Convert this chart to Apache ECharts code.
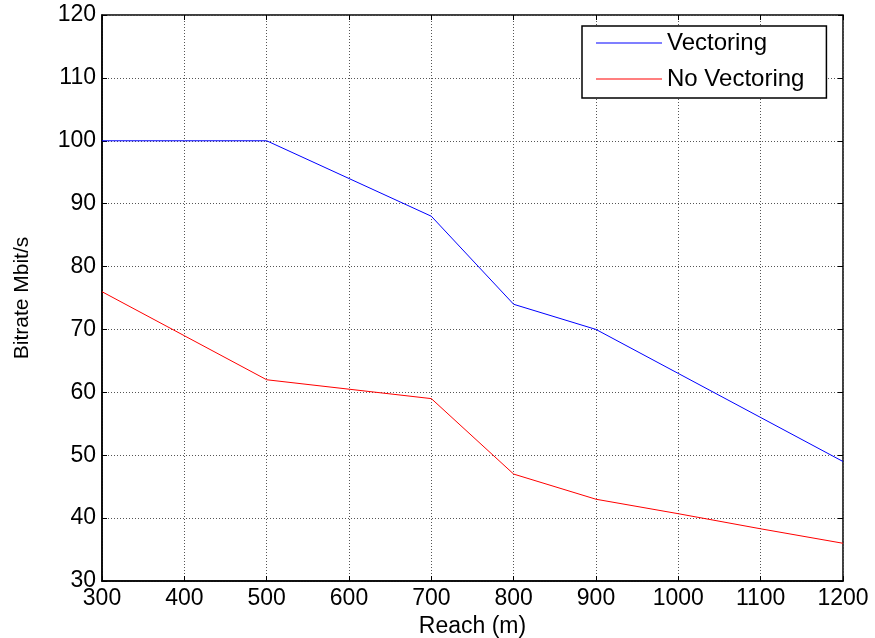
<!DOCTYPE html>
<html>
<head>
<meta charset="UTF-8">
<title>Bitrate vs Reach</title>
<script src="https://cdn.jsdelivr.net/npm/echarts@6/dist/echarts.min.js"></script>
<style>
  html, body { margin: 0; padding: 0; background: #fff; }
  #chart { width: 875px; height: 638px; }
</style>
</head>
<body>
<div id="chart"></div>
<script type="text/javascript">
// reach in metres
var reach = [300, 400, 500, 600, 700, 800, 900, 1000, 1100, 1200];
// bitrate values
var vectoring = [100, 100, 100, 94, 88, 74, 70, 63, 56, 49];
var noVectoring = [76, 69, 62, 60.5, 59, 47, 43, 40.7, 38.3, 36];

function pairs(xs, ys) {
    return xs.map(function (x, i) { return [x, ys[i]]; });
}

var chart = echarts.init(document.getElementById('chart'));

var font = 'Liberation Sans, Arial, sans-serif';
var gridLine = { show: true, lineStyle: { color: '#555', type: [1, 2], width: 1 } };
var tick = { show: true, inside: true, length: 5, lineStyle: { color: '#000' } };

var option = {
    animation: false,
    grid: {
        left: 102, right: 32, top: 15, bottom: 57,
        outerBoundsMode: 'none', containLabel: false,
        show: true, borderColor: '#000', borderWidth: 1.5, backgroundColor: '#fff'
    },
    legend: {
        left: 582, top: 26,
        orient: 'vertical',
        icon: 'rect',
        itemWidth: 66, itemHeight: 1.2, itemGap: 12,
        padding: [5, 22, 7, 14],
        borderColor: '#000', borderWidth: 1.5,
        backgroundColor: '#fff',
        textStyle: { fontFamily: font, fontSize: 24, color: '#000' },
        data: ['Vectoring', 'No Vectoring']
    },
    xAxis: [{
        type: 'value', min: 300, max: 1200, interval: 100,
        name: 'Reach (m)', nameLocation: 'middle', nameGap: 29,
        nameTextStyle: { fontFamily: font, fontSize: 23, color: '#000' },
        axisLine: { show: true, onZero: false, lineStyle: { color: '#000', width: 1.5 } },
        axisTick: tick,
        axisLabel: { fontFamily: font, fontSize: 23, color: '#000', margin: 6,
            formatter: function (v) { return String(v); } },
        splitLine: gridLine
    }, {
        type: 'value', min: 300, max: 1200, interval: 100, position: 'top',
        axisLine: { show: false }, axisTick: tick,
        axisLabel: { show: false }, splitLine: { show: false }
    }],
    yAxis: [{
        type: 'value', min: 30, max: 120, interval: 10,
        name: 'Bitrate Mbit/s', nameLocation: 'middle', nameGap: 69,
        nameTextStyle: { fontFamily: font, fontSize: 21, color: '#000' },
        axisLine: { show: true, onZero: false, lineStyle: { color: '#000', width: 1.5 } },
        axisTick: tick,
        axisLabel: { fontFamily: font, fontSize: 23, color: '#000', margin: 6 },
        splitLine: gridLine
    }, {
        type: 'value', min: 30, max: 120, interval: 10, position: 'right',
        axisLine: { show: false }, axisTick: tick,
        axisLabel: { show: false }, splitLine: { show: false }
    }],
    series: [{
        name: 'Vectoring', type: 'line', showSymbol: false,
        color: '#0000ff', lineStyle: { width: 1, color: '#0000ff' },
        data: pairs(reach, vectoring)
    }, {
        name: 'No Vectoring', type: 'line', showSymbol: false,
        color: '#ff0000', lineStyle: { width: 1, color: '#ff0000' },
        data: pairs(reach, noVectoring)
    }]
};

chart.setOption(option);
</script>
</body>
</html>
